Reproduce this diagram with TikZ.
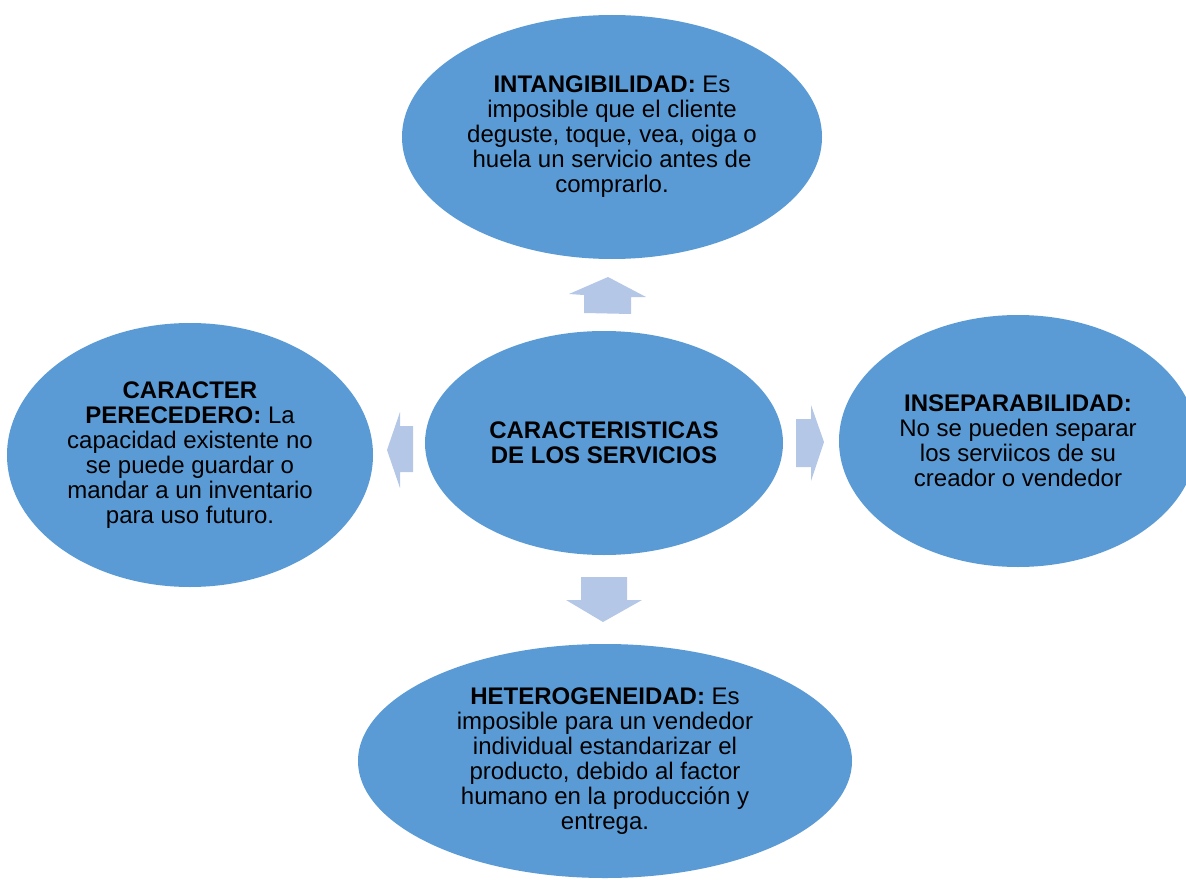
\documentclass[tikz,border=0pt]{standalone}
\usepackage{fontspec}
\setmainfont{Liberation Sans}
\usetikzlibrary{shapes.geometric}
\definecolor{ellblue}{HTML}{5B9BD5}
\definecolor{arrblue}{HTML}{B4C7E7}
\tikzset{
  bubble/.style={ellipse, fill=ellblue, draw=none, inner sep=0pt, align=center,
    font=\fontsize{24}{25}\selectfont, text=black},
  blockarrow/.style={fill=arrblue, draw=none}
}
\begin{document}
\begin{tikzpicture}[x=1pt,y=-1pt]
\useasboundingbox (0,0) rectangle (1186,880);
\node[bubble, minimum width=420, minimum height=244] (top) at (612,137)
  {\textbf{INTANGIBILIDAD:} Es\\imposible que el cliente\\deguste, toque, vea, oiga o\\huela un servicio antes de\\comprarlo.};
\node[bubble, minimum width=358, minimum height=224] (center) at (604,443)
  {\textbf{CARACTERISTICAS}\\\textbf{DE LOS SERVICIOS}};
\node[bubble, minimum width=366, minimum height=264] (left) at (190,455)
  {\textbf{CARACTER}\\\textbf{PERECEDERO:} La\\capacidad existente no\\se puede guardar o\\mandar a un inventario\\para uso futuro.};
\node[bubble, minimum width=358, minimum height=252] (right) at (1018,441)
  {\textbf{INSEPARABILIDAD:}\\No se pueden separar\\los serviicos de su\\creador o vendedor};
\node[bubble, minimum width=494, minimum height=234] (bottom) at (605,761)
  {\textbf{HETEROGENEIDAD:} Es\\imposible para un vendedor\\individual estandarizar el\\producto, debido al factor\\humano en la producción y\\entrega.};
% block arrows
\fill[blockarrow] (584,313) -- (584,295) -- (569,294) -- (608,277) -- (646,297) -- (631,297) -- (631,314) -- cycle;
\fill[blockarrow] (581,577) -- (627,577) -- (627,600) -- (642,600) -- (603,622) -- (566,600) -- (581,600) -- cycle;
\fill[blockarrow] (413,426) -- (413,472) -- (400,472) -- (400,488) -- (387,450) -- (400,412) -- (400,426) -- cycle;
\fill[blockarrow] (796,419) -- (811,419) -- (811,405) -- (824,442) -- (811,481) -- (811,467) -- (796,467) -- cycle;
\end{tikzpicture}
\end{document}
